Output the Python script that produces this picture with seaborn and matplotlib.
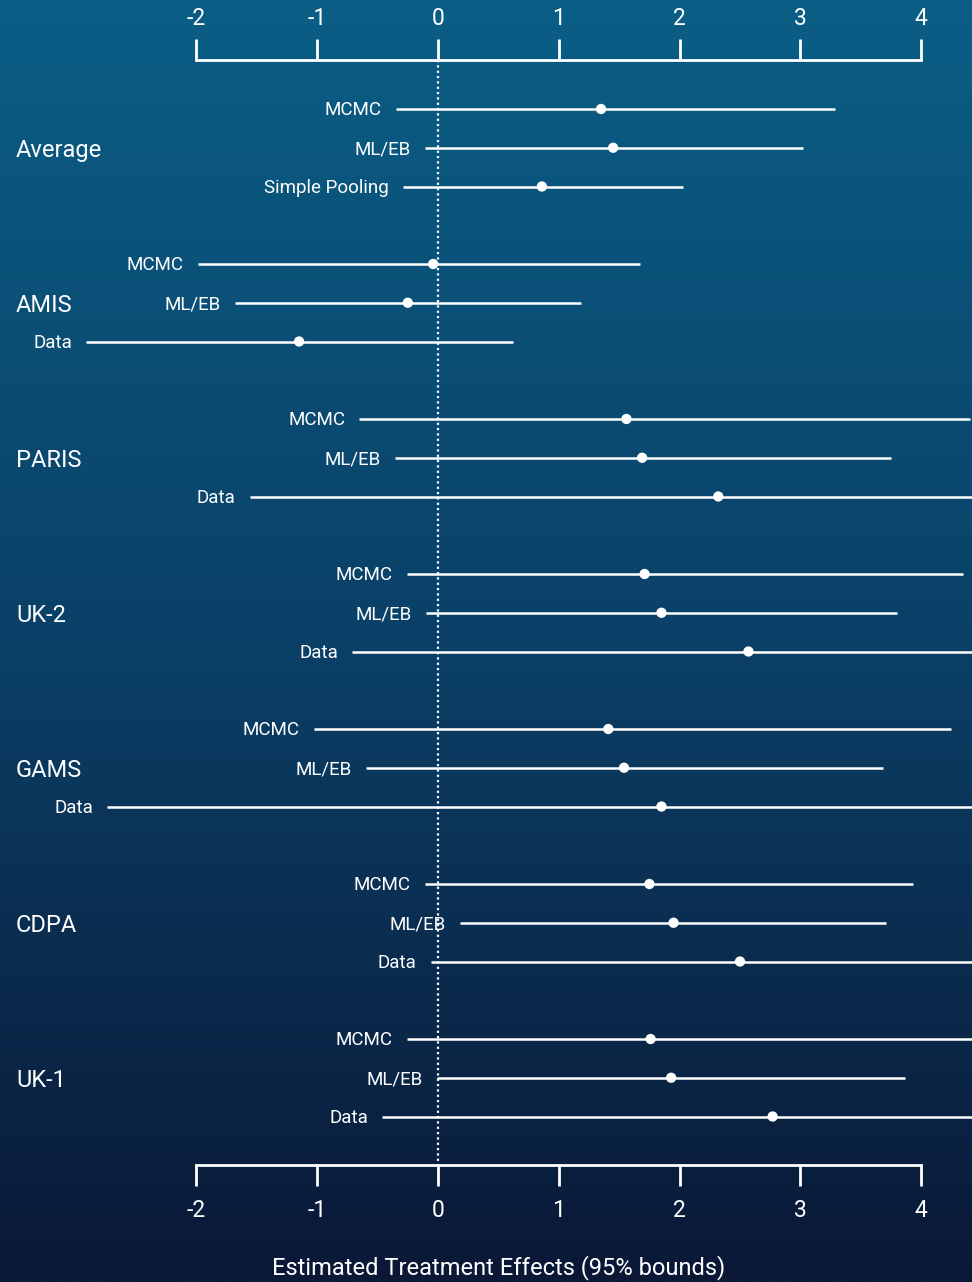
import matplotlib.pyplot as plt
import numpy as np
import pandas as pd
import seaborn as sns
from matplotlib.colors import LinearSegmentedColormap
from matplotlib.transforms import ScaledTranslation, blended_transform_factory

GROUPS = ["Average", "AMIS", "PARIS", "UK-2", "GAMS", "CDPA", "UK-1"]
METHODS = [
    ["MCMC", "ML/EB", "Simple Pooling"],
    ["MCMC", "ML/EB", "Data"],
    ["MCMC", "ML/EB", "Data"],
    ["MCMC", "ML/EB", "Data"],
    ["MCMC", "ML/EB", "Data"],
    ["MCMC", "ML/EB", "Data"],
    ["MCMC", "ML/EB", "Data"],
]
ESTIMATE = [
    [1.35, 1.45, 0.86],
    [-0.04, -0.25, -1.15],
    [1.56, 1.69, 2.32],
    [1.71, 1.85, 2.57],
    [1.41, 1.54, 1.85],
    [1.75, 1.95, 2.50],
    [1.76, 1.93, 2.77],
]
LOWER = [
    [-0.35, -0.11, -0.29],
    [-1.99, -1.68, -2.91],
    [-0.65, -0.36, -1.56],
    [-0.26, -0.10, -0.71],
    [-1.03, -0.60, -2.74],
    [-0.11, 0.18, -0.06],
    [-0.26, -0.01, -0.46],
]
UPPER = [
    [3.29, 3.02, 2.03],
    [1.67, 1.18, 0.62],
    [4.40, 3.75, 6.20],
    [4.35, 3.80, 5.80],
    [4.25, 3.68, 6.40],
    [3.93, 3.71, 5.10],
    [4.80, 3.87, 6.00],
]
TICKS = [-2, -1, 0, 1, 2, 3, 4]

rows = []
for g, name in enumerate(GROUPS):
    for r, method in enumerate(METHODS[g]):
        rows.append({"group": name, "method": method, "pos": g * 4 + r,
                     "est": ESTIMATE[g][r], "lo": LOWER[g][r], "hi": UPPER[g][r]})
df = pd.DataFrame(rows)

sns.set_theme(style="white")
plt.rcParams["font.family"] = ["Roboto", "DejaVu Sans"]
plt.rcParams["axes.unicode_minus"] = False

W, H = 972, 1282
fig = plt.figure(figsize=(W / 100, H / 100), dpi=100)

# gradient background
bg = fig.add_axes([0, 0, 1, 1], zorder=-1)
cmap = LinearSegmentedColormap.from_list("bg", ["#0b5e86", "#0a4067", "#0b1836"])
bg.imshow(np.linspace(0, 1, 512)[:, None], aspect="auto", cmap=cmap, extent=[0, 1, 0, 1])
bg.set_axis_off()

top_px, bot_px = 60, 1165
ax = fig.add_axes([0, (H - bot_px) / H, 1, (bot_px - top_px) / H])
ax.set_facecolor("none")

px0, pxu = 438, 120.8
row0, rowu = 109, 38.75
ax.set_xlim((0 - px0) / pxu, (W - px0) / pxu)
ylo, yhi = (bot_px - row0) / rowu, (top_px - row0) / rowu
ax.set_ylim(ylo, yhi)

ax.vlines(0, yhi, ylo, colors="white", linestyles=(0, (1, 1.4)), lw=1.6, zorder=1)
ax.hlines(df["pos"], df["lo"], df["hi"], colors="white", lw=1.8, zorder=2)
sns.scatterplot(data=df, x="est", y="pos", color="white", s=55, edgecolor="none",
                ax=ax, zorder=3, legend=False)

for _, row in df.iterrows():
    ax.annotate(row["method"], xy=(row["lo"], row["pos"]), xytext=(-10, -1),
                textcoords="offset points", ha="right", va="center",
                color="white", fontsize=13.5)

trans = blended_transform_factory(ax.transAxes, ax.transData)
for g, name in enumerate(GROUPS):
    ax.annotate(name, xy=(16 / W, g * 4 + 1), xycoords=trans, xytext=(0, -2),
                textcoords="offset points", ha="left", va="center",
                color="white", fontsize=17)

for side in ["left", "right"]:
    ax.spines[side].set_visible(False)
for side in ["top", "bottom"]:
    ax.spines[side].set_visible(True)
    ax.spines[side].set_color("white")
    ax.spines[side].set_linewidth(2)
    ax.spines[side].set_bounds(-2, 4)

ax.set_yticks([])
ax.set_xticks(TICKS)
ax.set_xticklabels([str(t) for t in TICKS])
ax.tick_params(axis="x", top=True, labeltop=True, bottom=True, labelbottom=True,
               direction="out", length=15, width=2, colors="white", pad=9.5,
               labelsize=16.5)
ax.set_xlabel("")
ax.set_ylabel("")

# nudge the top tick labels down a little
shift = ScaledTranslation(0, -4 / 100, fig.dpi_scale_trans)
for tick in ax.xaxis.get_major_ticks():
    tick.label2.set_transform(tick.label2.get_transform() + shift)

fig.text(499 / W, 1 - 1268 / H, "Estimated Treatment Effects (95% bounds)",
         ha="center", va="center", color="white", fontsize=17)

fig.savefig("out.png", dpi=100)
plt.close(fig)
